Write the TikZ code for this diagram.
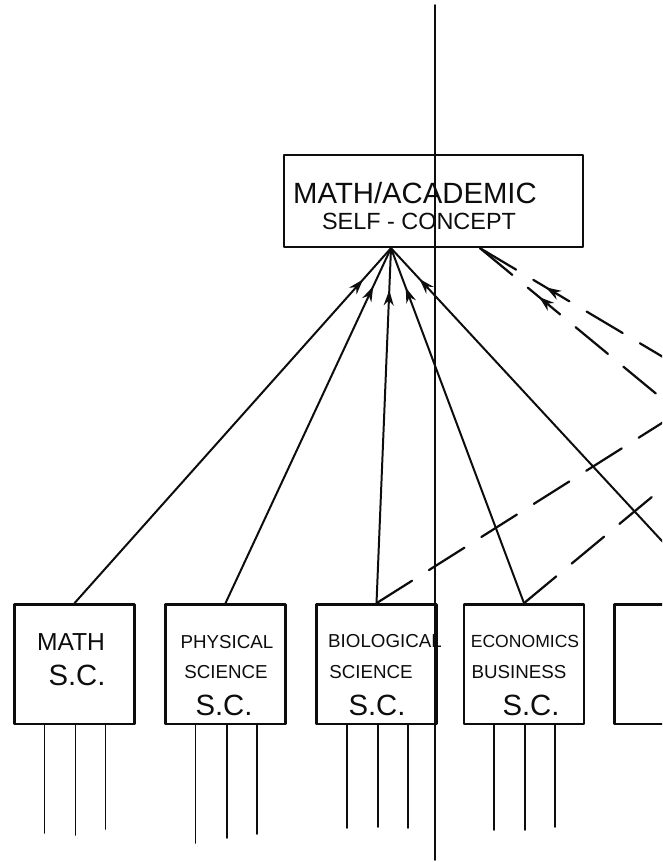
\documentclass[tikz,border=0pt]{standalone}
\usepackage{fontspec}
\setmainfont{Liberation Sans}
\usetikzlibrary{arrows.meta,calc,decorations.markings}
\definecolor{SCInk}{gray}{0.05}
\tikzset{
    sc/diagram/.style={
        x=0.3mm, y=-0.3mm,
        draw=SCInk,
        text=SCInk,
        line cap=round,
        line join=round,
        >=Stealth
    },
    sc/topbox/.style={
        draw=SCInk, line width=2pt, inner sep=0pt,
        minimum width=89.7mm, minimum height=27.6mm
    },
    sc/box/.style={
        draw=SCInk, line width=2pt, inner sep=0pt,
        minimum width=36mm, minimum height=35.8mm
    },
    sc/title/.style={font=\fontsize{25pt}{29pt}\selectfont, inner sep=0pt},
    sc/subtitle/.style={font=\fontsize{20pt}{24pt}\selectfont, inner sep=0pt},
    sc/name/.style={font=\fontsize{16pt}{19pt}\selectfont, inner sep=0pt},
    sc/tag/.style={font=\fontsize{25pt}{30pt}\selectfont, inner sep=0pt},
    sc/load/.style={
        draw=SCInk, line width=1.7pt, postaction=decorate,
        decoration={markings, mark=at position -12.6mm with
            {\arrow{Stealth[length=4.6mm, width=3mm]}}}
    },
    sc/back/.style={
        draw=SCInk, line width=1.9pt, dash pattern=on 12.6mm off 6mm,
        postaction=decorate,
        decoration={markings, mark=at position 23mm with
            {\arrowreversed{Stealth[length=4.6mm, width=3mm]}}}
    },
    sc/cross/.style={
        draw=SCInk, line width=1.9pt, dash pattern=on 12.6mm off 6mm
    },
    sc/item/.style={draw=SCInk, line width=1.7pt},
    sc/fold/.style={draw=SCInk, line width=1.5pt}
}
\begin{document}
\begin{tikzpicture}[sc/diagram]
    \useasboundingbox (0,0) rectangle (662,862);
    \clip (0,0) rectangle (662,862);
    \coordinate (foldtop) at (435,5);
    \coordinate (foldbot) at (435,860);
    \draw[sc/fold] (foldtop) -- (foldbot);

    \node[sc/topbox] (top) at (433.5,201) {};
    \node[sc/title] (toptxt) at (415,193) {MATH/ACADEMIC};
    \node[sc/subtitle] (subtxt) at (419,221) {SELF - CONCEPT};
    \coordinate (apex) at ($(top.south)+(-42.5,0)$);
    \coordinate (apexr) at ($(top.south)+(46.5,0)$);

    \node[sc/box] (b1) at (74.5,664) {};
    \node[sc/box] (b2) at (225.5,664) {};
    \node[sc/box] (b3) at (376.5,664) {};
    \node[sc/box] (b4) at (524,664) {};
    \node[sc/box] (b5) at (674.5,664) {};

    \node[sc/name, font=\fontsize{21pt}{24pt}\selectfont] (b1a) at (71,642) {MATH};
    \node[sc/tag]  (b1b) at (77,675) {S.C.};
    \node[sc/name] (b2a) at (227,642) {PHYSICAL};
    \node[sc/name] (b2b) at (226,672) {SCIENCE};
    \node[sc/tag]  (b2c) at (224,705) {S.C.};
    \node[sc/name] (b3a) at (385,641) {BIOLOGICAL};
    \node[sc/name] (b3b) at (371,672) {SCIENCE};
    \node[sc/tag]  (b3c) at (377,705) {S.C.};
    \node[sc/name, font=\fontsize{15pt}{18pt}\selectfont] (b4a) at (525,641) {ECONOMICS};
    \node[sc/name] (b4b) at (519,672) {BUSINESS};
    \node[sc/tag]  (b4c) at (531,705) {S.C.};

    \draw[sc/load] (b1.north) -- (apex);
    \draw[sc/load] (b2.north) -- (apex);
    \draw[sc/load] (b3.north) -- (apex);
    \draw[sc/load] (b4.north) -- (apex);
    \draw[sc/load] ($(b5.north)+(45,0)$) -- (apex);

    % dashed links run off the right edge of the sheet
    \coordinate (offa) at (700,379);
    \coordinate (offb) at (700,430);
    \coordinate (offc) at (700,399);
    \coordinate (offd) at (700,457);
    \draw[sc/back] (apexr) -- (offa);
    \draw[sc/back] (apexr) -- (offb);
    \draw[sc/cross] (b3.north) -- (offc);
    \draw[sc/cross] (b4.north) -- (offd);

    \foreach \b/\la/\lb/\lc in {b1/108/110/104, b2/118/113/109,
                                b3/103/102/103, b4/105/105/102} {
        \draw[sc/item] ($(\b.south)+(-30,0)$) -- ++(0,\la);
        \draw[sc/item] ($(\b.south)+(1,0)$) -- ++(0,\lb);
        \draw[sc/item] ($(\b.south)+(31,0)$) -- ++(0,\lc);
    }
\end{tikzpicture}
\end{document}
